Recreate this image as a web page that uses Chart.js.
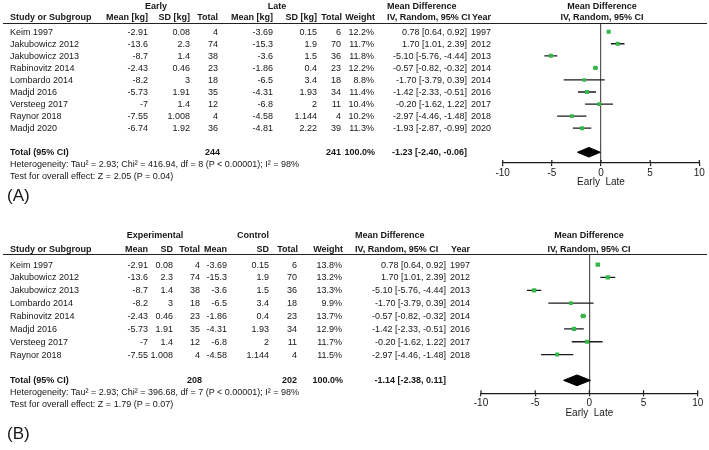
<!DOCTYPE html>
<html>
<head>
<meta charset="utf-8">
<script src="https://cdn.jsdelivr.net/npm/chart.js@4.4.1/dist/chart.umd.min.js"></script>
<style>
  html, body { margin: 0; padding: 0; background: #fff; }
  #wrap { position: relative; width: 709px; height: 450px; overflow: hidden;
          font-family: "Liberation Sans", Arial, sans-serif; color: #161616; }
  #wrap canvas { position: absolute; left: 0; }
  .t { position: absolute; white-space: nowrap; font-size: 9px; line-height: 12px; height: 12px; }
  .b { font-weight: bold; }
  .rule { position: absolute; left: 3px; width: 704px; height: 0; border-top: 1.4px solid #222; }
</style>
</head>
<body>
<div id="wrap">
  <canvas id="chartA" width="709" height="200" style="top:0px"></canvas>
  <canvas id="chartB" width="709" height="235" style="top:215px"></canvas>
</div>
<script>
// (A) early vs late
const studiesA = ["Keim 1997", "Jakubowicz 2012", "Jakubowicz 2013", "Rabinovitz 2014", "Lombardo 2014",
                  "Madjd 2016", "Versteeg 2017", "Raynor 2018", "Madjd 2020"];
const yearsA = [1997, 2012, 2013, 2014, 2014, 2016, 2017, 2018, 2020];
const earlyMeanA = [-2.91, -13.6, -8.7, -2.43, -8.2, -5.73, -7, -7.55, -6.74];
const earlySdA = [0.08, 2.3, 1.4, 0.46, 3, 1.91, 1.4, 1.008, 1.92];
const earlyNA = [4, 74, 38, 23, 18, 35, 12, 4, 36];
const lateMeanA = [-3.69, -15.3, -3.6, -1.86, -6.5, -4.31, -6.8, -4.58, -4.81];
const lateSdA = [0.15, 1.9, 1.5, 0.4, 3.4, 1.93, 2, 1.144, 2.22];
const lateNA = [6, 70, 36, 23, 18, 34, 11, 4, 39];
const weightA = [12.2, 11.7, 11.8, 12.2, 8.8, 11.4, 10.4, 10.2, 11.3];
const mdA = [0.78, 1.70, -5.10, -0.57, -1.70, -1.42, -0.20, -2.97, -1.93];
const loA = [0.64, 1.01, -5.76, -0.82, -3.79, -2.33, -1.62, -4.46, -2.87];
const hiA = [0.92, 2.39, -4.44, -0.32, 0.39, -0.51, 1.22, -1.48, -0.99];
const totalA = [-1.23, -2.40, -0.06]; // md, lo, hi
const totalNA = [244, 241];

// (B) experimental vs control
const studiesB = ["Keim 1997", "Jakubowicz 2012", "Jakubowicz 2013", "Lombardo 2014", "Rabinovitz 2014",
                  "Madjd 2016", "Versteeg 2017", "Raynor 2018"];
const yearsB = [1997, 2012, 2013, 2014, 2014, 2016, 2017, 2018];
const expMeanB = [-2.91, -13.6, -8.7, -8.2, -2.43, -5.73, -7, -7.55];
const expSdB = [0.08, 2.3, 1.4, 3, 0.46, 1.91, 1.4, 1.008];
const expNB = [4, 74, 38, 18, 23, 35, 12, 4];
const ctlMeanB = [-3.69, -15.3, -3.6, -6.5, -1.86, -4.31, -6.8, -4.58];
const ctlSdB = [0.15, 1.9, 1.5, 3.4, 0.4, 1.93, 2, 1.144];
const ctlNB = [6, 70, 36, 18, 23, 34, 11, 4];
const weightB = [13.8, 13.2, 13.3, 9.9, 13.7, 12.9, 11.7, 11.5];
const mdB = [0.78, 1.70, -5.10, -1.70, -0.57, -1.42, -0.20, -2.97];
const loB = [0.64, 1.01, -5.76, -3.79, -0.82, -2.33, -1.62, -4.46];
const hiB = [0.92, 2.39, -4.44, 0.39, -0.32, -0.51, 1.22, -1.48];
const totalB = [-1.14, -2.38, 0.11];
const totalNB = [208, 202];

const xTicks = [-10, -5, 0, 5, 10];
const green = "#33b84a";
const ink = "#1a1a1a";

// small upward tick stubs so the ticks cross the axis line
const tickStubs = {
  id: "tickStubs",
  afterDraw(chart) {
    const sx = chart.scales.x, ctx = chart.ctx, y0 = chart.chartArea.bottom;
    ctx.save();
    ctx.strokeStyle = ink;
    ctx.lineWidth = 1.2;
    sx.ticks.forEach((t) => {
      const px = sx.getPixelForValue(t.value);
      ctx.beginPath();
      ctx.moveTo(px, y0 - 3);
      ctx.lineTo(px, y0);
      ctx.stroke();
    });
    ctx.restore();
  },
};

function makeForest(id, md, lo, hi, wt, total, yMin, yMax, pad, axisH, dh) {
  const lines = md.map((m, i) => ({
    type: "line",
    data: [{ x: lo[i], y: i }, { x: hi[i], y: i }],
    borderColor: ink,
    borderWidth: 1.3,
    pointRadius: 0,
    order: 2,
  }));
  const ty = md.length + 1;
  const diamond = {
    type: "line",
    data: [
      { x: total[1], y: ty }, { x: total[0], y: ty - dh },
      { x: total[2], y: ty }, { x: total[0], y: ty + dh }, { x: total[1], y: ty },
    ],
    borderColor: "#000",
    backgroundColor: "#000",
    borderWidth: 1,
    pointRadius: 0,
    fill: "shape",
    order: 1,
  };
  const markers = {
    type: "scatter",
    data: md.map((m, i) => ({ x: m, y: i })),
    pointStyle: "rect",
    pointRadius: wt.map((w) => 2.9 * Math.sqrt(w / 12)),
    pointHoverRadius: wt.map((w) => 2.9 * Math.sqrt(w / 12)),
    backgroundColor: green,
    borderWidth: 0,
    order: 0,
  };

  return new Chart(document.getElementById(id), {
    type: "scatter",
    data: { datasets: [markers, diamond, ...lines] },
    options: {
      responsive: false,
      animation: false,
      layout: { padding: pad },
      plugins: { legend: { display: false }, tooltip: { enabled: false } },
      scales: {
        x: {
          type: "linear",
          min: -10,
          max: 10,
          afterBuildTicks: (s) => { s.ticks = xTicks.map((v) => ({ value: v })); },
          afterFit: (s) => { s.height = axisH; },
          ticks: { font: { family: "Liberation Sans", size: 10 }, color: ink, padding: 1 },
          grid: {
            color: (c) => (c.tick && c.tick.value === 0 ? "#555" : "rgba(0,0,0,0)"),
            tickColor: ink,
            tickLength: 3,
            lineWidth: 1.2,
          },
          border: { display: true, color: ink, width: 1.3 },
          title: {
            display: true,
            text: "Early  Late",
            font: { family: "Liberation Sans", size: 10 },
            color: ink,
            padding: 0,
          },
        },
        y: { type: "linear", display: false, reverse: true, min: yMin, max: yMax },
      },
    },
    plugins: [tickStubs],
  });
}

const chartA = makeForest("chartA", mdA, loA, hiA, weightA, totalA, -0.64, 10.9,
  { left: 502.7, right: 9.7, top: 24, bottom: 11.5 }, 25.4, 0.4);
const chartB = makeForest("chartB", mdB, loB, hiB, weightB, totalB, -0.8, 10,
  { left: 481, right: 11.3, top: 39.3, bottom: 30.5 }, 26.3, 0.42);

// ---- table text
const wrap = document.getElementById("wrap");
function txt(s, x, y, align, bold, size) {
  const d = document.createElement("div");
  d.className = "t" + (bold ? " b" : "");
  d.textContent = s;
  let lh = 12;
  if (size) {
    lh = Math.round(size * 1.25);
    d.style.fontSize = size + "px";
    d.style.lineHeight = lh + "px";
    d.style.height = lh + "px";
  }
  d.style.top = (y - lh / 2) + "px";
  if (align === "right") d.style.right = (709 - x) + "px";
  else if (align === "center") { d.style.left = x + "px"; d.style.transform = "translateX(-50%)"; }
  else d.style.left = x + "px";
  wrap.appendChild(d);
}
function rule(y) {
  const d = document.createElement("div");
  d.className = "rule";
  d.style.top = (y - 0.7) + "px";
  wrap.appendChild(d);
}
const f2 = (v) => v.toFixed(2);
const ciText = (m, l, h) => `${f2(m)} [${f2(l)}, ${f2(h)}]`;

function table(chart, top, p) {
  const rowY = (i) => top + chart.scales.y.getPixelForValue(i);
  rule(top + chart.chartArea.top);
  const c = p.cols;
  // headers
  txt(p.g1, c.g1, p.h1, "center", true);
  txt(p.g2, c.g2, p.h1, "center", true);
  txt("Mean Difference", c.ciL, p.h1, "left", true);
  txt("Mean Difference", c.plot, p.h1, "center", true);
  txt("Study or Subgroup", 10, p.h2, "left", true);
  txt(p.mh, c.m1, p.h2, "right", true);
  txt(p.sh, c.s1, p.h2, "right", true);
  txt("Total", c.n1, p.h2, "right", true);
  txt(p.mh, c.m2, p.h2, "right", true);
  txt(p.sh, c.s2, p.h2, "right", true);
  txt("Total", c.n2 + 1, p.h2, "right", true);
  txt("Weight", c.w + 1, p.h2, "right", true);
  txt("IV, Random, 95% CI", c.ciL, p.h2, "left", true);
  txt("Year", c.yr + 1, p.h2, "left", true);
  txt("IV, Random, 95% CI", c.plot, p.h2, "center", true);
  // rows
  p.names.forEach((n, i) => {
    const y = rowY(i);
    txt(n, 10, y, "left");
    txt(String(p.m1[i]), c.m1, y, "right");
    txt(String(p.s1[i]), c.s1, y, "right");
    txt(String(p.n1[i]), c.n1, y, "right");
    txt(String(p.m2[i]), c.m2, y, "right");
    txt(String(p.s2[i]), c.s2, y, "right");
    txt(String(p.n2[i]), c.n2, y, "right");
    txt(p.w[i].toFixed(1) + "%", c.w, y, "right");
    txt(ciText(p.md[i], p.lo[i], p.hi[i]), c.ci, y, "right");
    txt(String(p.yr[i]), c.yr, y, "left");
  });
  const ty = rowY(p.names.length + 1);
  txt("Total (95% CI)", 10, ty, "left", true);
  txt(String(p.tn[0]), c.n1 + 2, ty, "right", true);
  txt(String(p.tn[1]), c.n2, ty, "right", true);
  txt("100.0%", c.w + 1, ty, "right", true);
  txt(ciText(p.tot[0], p.tot[1], p.tot[2]), c.ci, ty, "right", true);
  txt(p.het, 10, ty + 11.7, "left");
  txt(p.test, 10, ty + 23.4, "left");
  txt(p.label, 7, p.labelY, "left", false, 17);
}

table(chartA, 0, {
  g1: "Early", g2: "Late", h1: 5.5, h2: 17, mh: "Mean [kg]", sh: "SD [kg]",
  cols: { g1: 156, g2: 277, m1: 148, s1: 190, n1: 218, m2: 273, s2: 317, n2: 341, w: 374,
          ci: 467, ciL: 387, yr: 471, plot: 602 },
  names: studiesA, m1: earlyMeanA, s1: earlySdA, n1: earlyNA, m2: lateMeanA, s2: lateSdA, n2: lateNA,
  w: weightA, md: mdA, lo: loA, hi: hiA, yr: yearsA, tn: totalNA, tot: totalA,
  het: "Heterogeneity: Tau\u00b2 = 2.93; Chi\u00b2 = 416.94, df = 8 (P < 0.00001); I\u00b2 = 98%",
  test: "Test for overall effect: Z = 2.05 (P = 0.04)",
  label: "(A)", labelY: 195,
});

table(chartB, 215, {
  g1: "Experimental", g2: "Control", h1: 235, h2: 249, mh: "Mean", sh: "SD",
  cols: { g1: 155, g2: 253, m1: 148, s1: 173, n1: 200, m2: 227, s2: 269, n2: 297, w: 342,
          ci: 446, ciL: 355, yr: 450, plot: 589 },
  names: studiesB, m1: expMeanB, s1: expSdB, n1: expNB, m2: ctlMeanB, s2: ctlSdB, n2: ctlNB,
  w: weightB, md: mdB, lo: loB, hi: hiB, yr: yearsB, tn: totalNB, tot: totalB,
  het: "Heterogeneity: Tau\u00b2 = 2.93; Chi\u00b2 = 396.68, df = 7 (P < 0.00001); I\u00b2 = 98%",
  test: "Test for overall effect: Z = 1.79 (P = 0.07)",
  label: "(B)", labelY: 433,
});
</script>
</body>
</html>
